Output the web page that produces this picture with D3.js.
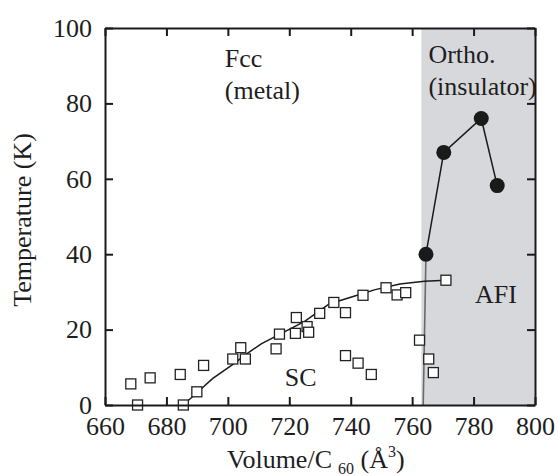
<!DOCTYPE html>
<html>
<head>
<meta charset="utf-8">
<title>Phase diagram</title>
<script src="https://cdn.jsdelivr.net/npm/d3@7"></script>
<style>
  body { margin: 0; background: #fff; }
  svg text { font-family: "Liberation Serif", "Times New Roman", serif; fill: #1e1e1e; }
  .frame path, .frame line { stroke: #1a1a1a; stroke-width: 2; }
</style>
</head>
<body>
<div id="chart"></div>
<script>
const width = 558
const height = 476
const margin = {top: 28, bottom: 71, left: 105, right: 23}
const netWidth = width - margin.left - margin.right
const netHeight = height - margin.top - margin.bottom

// Data
const xTicks = [660, 680, 700, 720, 740, 760, 780, 800]
const yTicks = [0, 20, 40, 60, 80, 100]
const orthoRange = [763, 800]

// Open squares (Tc of fcc samples)
const squareV = [668.4, 670.6, 674.7, 684.5, 685.5, 689.9, 692.1, 701.6, 704.2, 705.7, 715.7, 716.8, 722.0, 722.3, 725.8, 726.3, 729.9, 734.5, 738.3, 744.0, 751.5, 755.1, 757.9, 771.0, 738.3, 742.4, 746.7, 762.4, 765.4, 766.9]
const squareT = [5.6, 0, 7.2, 8.1, 0, 3.5, 10.5, 12.2, 15.2, 12.2, 14.9, 18.8, 19.0, 23.2, 20.8, 19.3, 24.3, 27.2, 24.5, 29.1, 31.1, 29.2, 29.8, 33.1, 13.1, 11.1, 8.1, 17.2, 12.2, 8.6]

// Filled circles (Neel temperature, orthorhombic)
const circleV = [764.5, 770.3, 782.5, 787.7]
const circleT = [40.0, 67.0, 76.0, 58.2]

// Guide line through the Tc points
const fitV = [685.5, 690, 695, 702, 706, 711, 717, 725, 733, 740, 748, 756, 764, 771]
const fitT = [0, 3.3, 7, 11, 13.5, 16.3, 18.8, 22.2, 26.8, 28.6, 30.6, 32.1, 32.8, 33.1]

// Phase boundary below the first AFI point
const boundaryV = [764.5, 763.6]
const boundaryT = [40, 0]

// Labels inside the chart
const labels = [
    {text: "Fcc", v: 699, t: 89.7},
    {text: "(metal)", v: 699, t: 81.2},
    {text: "Ortho.", v: 765.3, t: 90.7},
    {text: "(insulator)", v: 765.3, t: 82.2},
    {text: "AFI", v: 780.5, t: 27},
    {text: "SC", v: 718.5, t: 5}
]

const svg = d3.select("div#chart").append("svg").attr("width", width).attr("height", height)
const elementGroup = svg.append("g").attr("transform", `translate(${margin.left}, ${margin.top})`)

const x = d3.scaleLinear().domain([660, 800]).range([0, netWidth])
const y = d3.scaleLinear().domain([0, 100]).range([netHeight, 0])

// Shaded orthorhombic region
elementGroup.append("rect")
    .attr("x", x(orthoRange[0]))
    .attr("y", 0)
    .attr("width", x(orthoRange[1]) - x(orthoRange[0]))
    .attr("height", netHeight)
    .attr("fill", "#d7d8dc")

// Lines
const line = d3.line().x(d => x(d[0])).y(d => y(d[1]))

elementGroup.append("path")
    .datum(boundaryV.map((v, i) => [v, boundaryT[i]]))
    .attr("d", line)
    .attr("fill", "none")
    .attr("stroke", "#6a6a6a")
    .attr("stroke-width", 1.6)

elementGroup.append("path")
    .datum(fitV.map((v, i) => [v, fitT[i]]))
    .attr("d", line)
    .attr("fill", "none")
    .attr("stroke", "#1a1a1a")
    .attr("stroke-width", 1.5)

elementGroup.append("path")
    .datum(circleV.map((v, i) => [v, circleT[i]]))
    .attr("d", line)
    .attr("fill", "none")
    .attr("stroke", "#1a1a1a")
    .attr("stroke-width", 1.5)

// Open squares
const side = 10
elementGroup.selectAll("rect.square")
    .data(squareV.map((v, i) => [v, squareT[i]]))
    .enter().append("rect")
    .attr("class", "square")
    .attr("x", d => x(d[0]) - side / 2)
    .attr("y", d => y(d[1]) - side / 2)
    .attr("width", side)
    .attr("height", side)
    .attr("fill", "#fff")
    .attr("stroke", "#222")
    .attr("stroke-width", 1.3)

// Filled circles
elementGroup.selectAll("circle")
    .data(circleV.map((v, i) => [v, circleT[i]]))
    .enter().append("circle")
    .attr("cx", d => x(d[0]))
    .attr("cy", d => y(d[1]))
    .attr("r", 7.5)
    .attr("fill", "#1a1a1a")

// Labels
elementGroup.selectAll("text.label")
    .data(labels)
    .enter().append("text")
    .attr("class", "label")
    .attr("x", d => x(d.v))
    .attr("y", d => y(d.t))
    .attr("font-size", 26)
    .text(d => d.text)

// Axes (ticks pointing inward, full frame)
const fontSize = 26
const bottomAxis = d3.axisBottom(x).tickValues(xTicks).tickFormat(d3.format("d")).tickSizeInner(-8).tickSizeOuter(0).tickPadding(12)
const topAxis = d3.axisTop(x).tickValues(xTicks).tickFormat("").tickSizeInner(-8).tickSizeOuter(0)
const leftAxis = d3.axisLeft(y).tickValues(yTicks).tickSizeInner(-8).tickSizeOuter(0).tickPadding(13)
const rightAxis = d3.axisRight(y).tickValues(yTicks).tickFormat("").tickSizeInner(-8).tickSizeOuter(0)

const xAxisGroup = elementGroup.append("g").attr("class", "frame").attr("transform", `translate(0, ${netHeight})`).call(bottomAxis)
elementGroup.append("g").attr("class", "frame").call(topAxis)
const yAxisGroup = elementGroup.append("g").attr("class", "frame").call(leftAxis)
elementGroup.append("g").attr("class", "frame").attr("transform", `translate(${netWidth}, 0)`).call(rightAxis)

elementGroup.selectAll(".frame").attr("font-family", null).attr("font-size", null)
xAxisGroup.selectAll("text").attr("font-size", fontSize)
yAxisGroup.selectAll("text").attr("font-size", fontSize)

// Axis titles
svg.append("text")
    .attr("transform", `translate(31, 220) rotate(-90)`)
    .attr("text-anchor", "middle")
    .attr("font-size", fontSize)
    .text("Temperature (K)")

const xTitle = svg.append("text")
    .attr("x", 227)
    .attr("y", 468)
    .attr("font-size", fontSize)
xTitle.append("tspan").text("Volume/C")
xTitle.append("tspan").attr("font-size", 16).attr("dx", 6).attr("dy", 6).text("60")
xTitle.append("tspan").attr("dy", -6).text(" (Å")
xTitle.append("tspan").attr("font-size", 16).attr("dy", -11).text("3")
xTitle.append("tspan").attr("dy", 11).text(")")
</script>
</body>
</html>
